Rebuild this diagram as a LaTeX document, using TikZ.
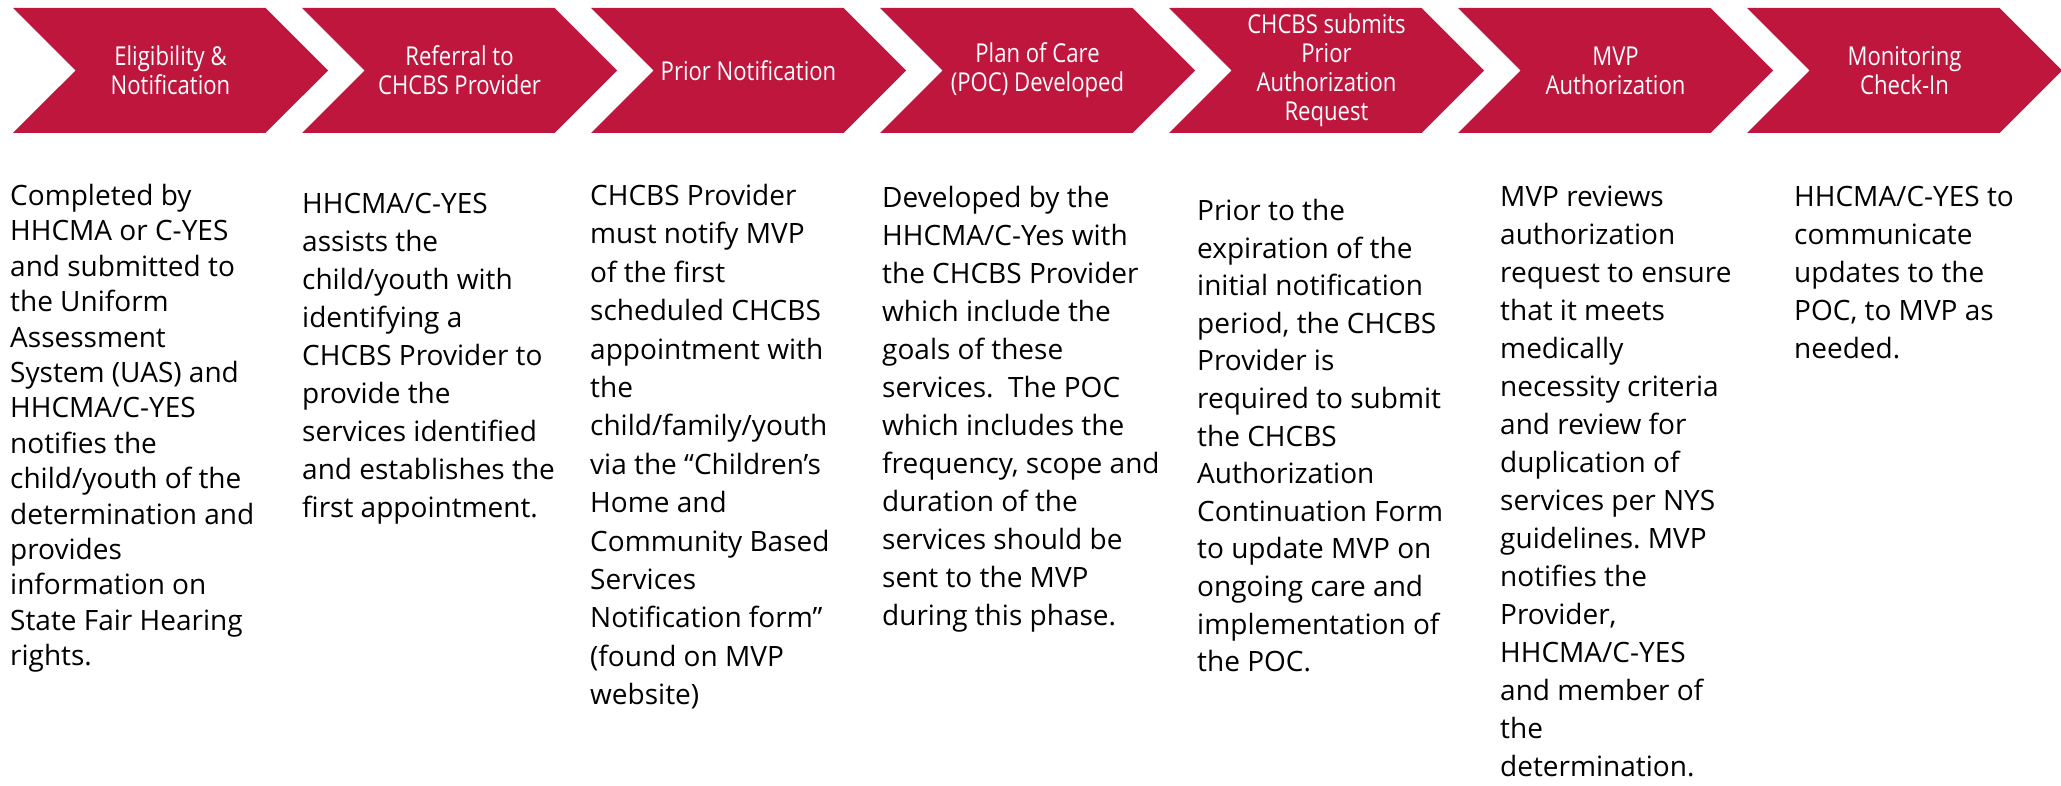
\documentclass[tikz,border=0pt]{standalone}
\usepackage{fontspec}
\setmainfont{Open Sans}
\newfontfamily\stagefont{Open Sans}[FakeStretch=0.85]
\usetikzlibrary{shapes.symbols}
\definecolor{mvpred}{RGB}{190,22,60}
\frenchspacing

\begin{document}
\begin{tikzpicture}[
  x=1pt, y=-1pt,
  stage/.style={signal, signal to=east, signal from=west, fill=mvpred, draw=none, minimum width=315pt, minimum height=125pt, inner sep=0pt, text=white, align=center, font=\stagefont\fontsize{26}{29}\selectfont},
  detail/.style={anchor=north west, inner sep=0pt, align=left, font=\fontsize{28}{38}\selectfont}
]
\useasboundingbox (0,0) rectangle (2061,786);

% ======================
% STAGES
% ======================
\node[stage] (eligibility) at (170.5,70.5) {Eligibility \&\\Notification};
\node[stage] (referral) at (459.5,70.5) {Referral to\\CHCBS Provider};
\node[stage] (prior) at (748.5,70.5) {Prior Notification};
\node[stage] (plan) at (1037.5,70.5) {Plan of Care\\(POC) Developed};
\node[stage] (submits) at (1326.5,70.5) {CHCBS submits\\Prior\\Authorization\\Request};
\node[stage] (authorization) at (1615.5,70.5) {MVP\\Authorization};
\node[stage] (monitoring) at (1904.5,70.5) {Monitoring\\Check-In};

% ======================
% DETAILS
% ======================
\node[detail, font=\fontsize{28}{35.4}\selectfont] (eligibility_text) at (10,184) {
Completed by\\
HHCMA or C-YES\\
and submitted to\\
the Uniform\\
Assessment\\
System (UAS) and\\
HHCMA/C-YES\\
notifies the\\
child/youth of the\\
determination and\\
provides\\
information on\\
State Fair Hearing\\
rights.
};

\node[detail] (referral_text) at (302,193) {
HHCMA/C-YES\\
assists the\\
child/youth with\\
identifying a\\
CHCBS Provider to\\
provide the\\
services identified\\
and establishes the\\
first appointment.
};

\node[detail, font=\fontsize{28}{38.4}\selectfont] (prior_text) at (590,184) {
CHCBS Provider\\
must notify MVP\\
of the first\\
scheduled CHCBS\\
appointment with\\
the\\
child/family/youth\\
via the “Children’s\\
Home and\\
Community Based\\
Services\\
Notification form”\\
(found on MVP\\
website)
};

\node[detail] (plan_text) at (882,186) {
Developed by the\\
HHCMA/C-Yes with\\
the CHCBS Provider\\
which include the\\
goals of these\\
services.~ The POC\\
which includes the\\
frequency, scope and\\
duration of the\\
services should be\\
sent to the MVP\\
during this phase.
};

\node[detail, font=\fontsize{28}{37.6}\selectfont] (submits_text) at (1197,199) {
Prior to the\\
expiration of the\\
initial notification\\
period, the CHCBS\\
Provider is\\
required to submit\\
the CHCBS\\
Authorization\\
Continuation Form\\
to update MVP on\\
ongoing care and\\
implementation of\\
the POC.
};

\node[detail] (authorization_text) at (1500,186) {
MVP reviews\\
authorization\\
request to ensure\\
that it meets\\
medically\\
necessity criteria\\
and review for\\
duplication of\\
services per NYS\\
guidelines. MVP\\
notifies the\\
Provider,\\
HHCMA/C-YES\\
and member of\\
the\\
determination.
};

\node[detail] (monitoring_text) at (1794,186) {
HHCMA/C-YES to\\
communicate\\
updates to the\\
POC, to MVP as\\
needed.
};

\end{tikzpicture}
\end{document}
